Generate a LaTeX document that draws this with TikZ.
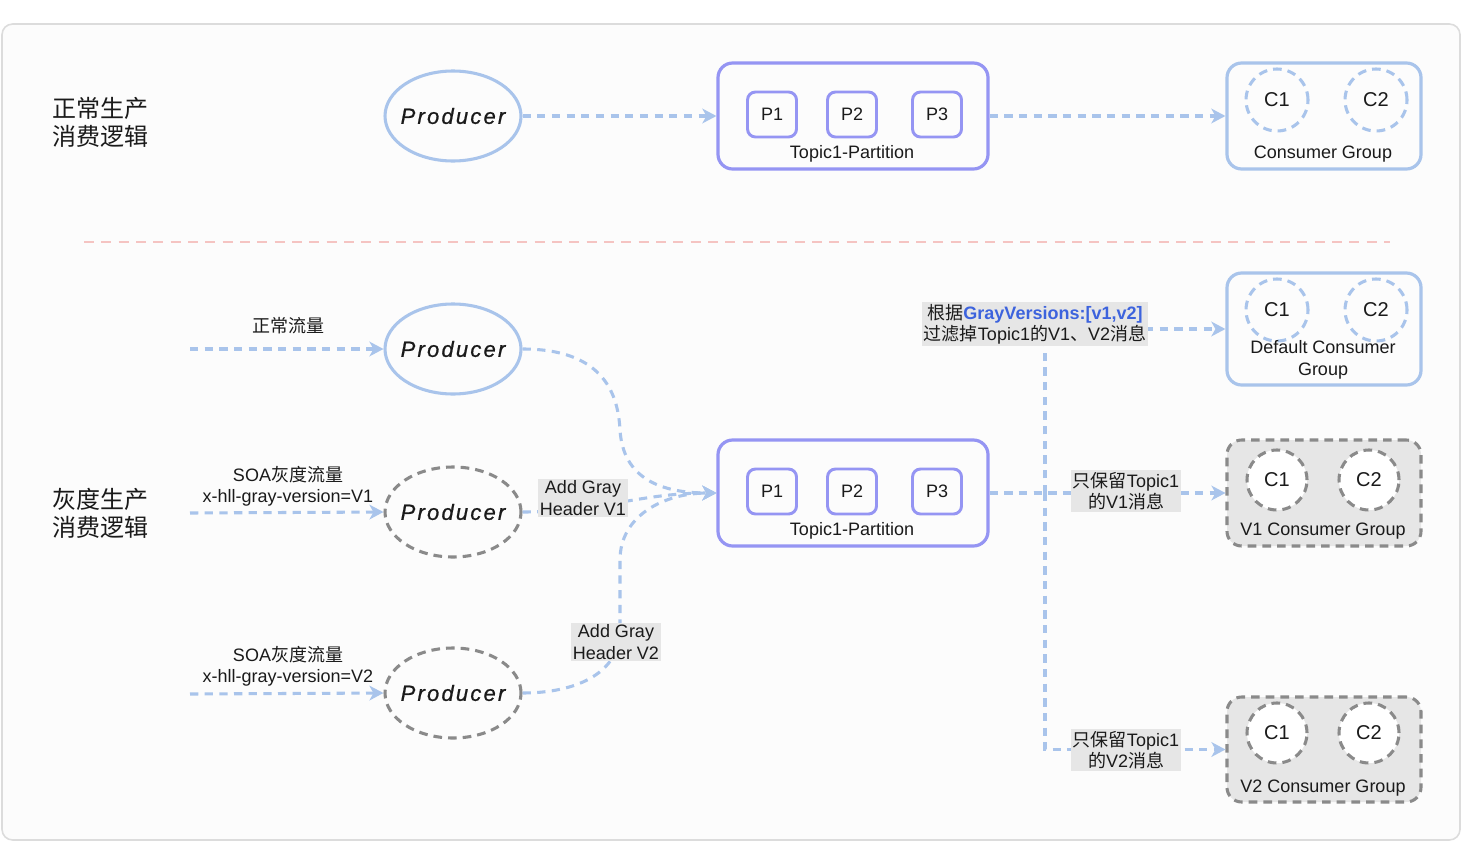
\documentclass[tikz,border=0pt]{standalone}
\usepackage{fontspec}
\setmainfont{Liberation Sans}
\newfontfamily\zh{Noto Sans CJK SC}
\newfontfamily\prodfont[LetterSpace=10,FakeBold=0.8]{Liberation Sans}
\usetikzlibrary{arrows.meta,shapes.geometric}
\definecolor{eblue}{HTML}{A9C4EB}
\definecolor{purp}{HTML}{9595F3}
\definecolor{dgray}{HTML}{8A8A8A}
\definecolor{lgray}{HTML}{E6E6E6}
\definecolor{pinkline}{HTML}{F5C4C2}
\definecolor{gblue}{HTML}{3D63DD}
\definecolor{framec}{HTML}{DCDCDC}
\definecolor{ink}{HTML}{1A1A1A}
\begin{document}
\begin{tikzpicture}[x=0.75pt,y=-0.75pt,
  txt/.style={font=\fontsize{13.5}{16}\selectfont, text=ink, align=center, inner sep=0pt},
  big/.style={font=\zh\fontsize{18}{21}\selectfont, text=ink, align=left, inner sep=0pt},
  clab/.style={font=\fontsize{15}{18}\selectfont, text=ink},
  plab/.style={font=\prodfont\itshape\fontsize{16.5}{19}\selectfont, text=ink},
  edge/.style={draw=eblue, line width=2.3pt, dash pattern=on 6.2pt off 4.8pt},
  arr/.style={edge, -{Stealth[length=10.5pt,width=11pt,inset=3pt]}},
  elab/.style={txt, fill=lgray, inner xsep=1.5pt, inner ysep=1.5pt},
  prodsolid/.style={ellipse, draw=eblue, line width=2.3pt, minimum width=136*0.75pt, minimum height=90*0.75pt, inner sep=0pt},
  prodgray/.style={ellipse, draw=dgray, line width=2.3pt, dash pattern=on 6.5pt off 4.5pt, minimum width=136*0.75pt, minimum height=90*0.75pt, inner sep=0pt},
  topicbox/.style={draw=purp, line width=2.4pt, rounded corners=11pt, minimum width=270*0.75pt, minimum height=106*0.75pt, inner sep=0pt},
  pbox/.style={draw=purp, line width=2.2pt, rounded corners=6pt, minimum width=49*0.75pt, minimum height=45*0.75pt, inner sep=0pt, font=\fontsize{13.5}{16}\selectfont, text=ink},
  cgblue/.style={draw=eblue, line width=2.4pt, rounded corners=11pt, minimum width=194*0.75pt, inner sep=0pt},
  cggray/.style={draw=dgray, fill=lgray, line width=2.3pt, dash pattern=on 6.5pt off 4.5pt, rounded corners=11pt, minimum width=194*0.75pt, inner sep=0pt},
  cblue/.style={circle, draw=eblue, line width=2.3pt, dash pattern=on 6.5pt off 4.5pt, minimum size=62*0.75pt, inner sep=0pt, clab},
  cgray/.style={circle, draw=dgray, fill=white, line width=2.3pt, dash pattern=on 6.5pt off 4.5pt, minimum size=60*0.75pt, inner sep=0pt, clab}
]
\useasboundingbox (0,0) rectangle (1474,846);
\draw[framec, line width=1.2pt, rounded corners=8pt, fill=white!99!black] (2,24) rectangle (1460,840);

% ---------- top section ----------
\node[big] (lt) at (100,122) {正常生产\\消费逻辑};
\node[prodsolid, label={[plab]center:Producer}] (p1) at (453,116) {};
\node[topicbox] (t1) at (853,116) {};
\node[pbox] (t1p1) at (772,114.5) {P1};
\node[pbox] (t1p2) at (852,114.5) {P2};
\node[pbox] (t1p3) at (937,114.5) {P3};
\node[txt] (t1l) at (852,154) {Topic1-Partition};
\node[cgblue, minimum height=106*0.75pt] (cg) at (1324,116) {};
\node[cblue] (cgc1) at (1277,100) {C1};
\node[cblue] (cgc2) at (1376,100) {C2};
\node[txt] (cgl) at (1323,154) {Consumer Group};
\draw[arr] (p1.east) -- (t1.west);
\draw[arr] (t1.east) -- (cg.west);

% separator
\coordinate (sepa) at (84,242);
\coordinate (sepb) at (1390,242);
\draw[pinkline, line width=2.2pt, dash pattern=on 7.5pt off 5.5pt] (sepa) -- (sepb);

% ---------- bottom section ----------
\node[big] (lb) at (100,513) {灰度生产\\消费逻辑};
\node[txt] (in1) at (288,326) {{\zh 正常流量}};
\node[txt] (in2) at (288,486) {SOA{\zh 灰度流量}\\x-hll-gray-version=V1};
\node[txt] (in3) at (288,666) {SOA{\zh 灰度流量}\\x-hll-gray-version=V2};
\coordinate (s1) at (190,349);
\coordinate (s2) at (190,513);
\coordinate (s3) at (190,694);
\node[prodsolid, label={[plab]center:Producer}] (p2) at (453,349) {};
\node[prodgray, label={[plab]center:Producer}] (p3) at (453,512) {};
\node[prodgray, label={[plab]center:Producer}] (p4) at (453,693) {};
\draw[arr] (s1) -- (p2.west);
\draw[arr] (s2) -- (p3.west);
\draw[arr] (s3) -- (p4.west);

\node[topicbox] (t2) at (853,493) {};
\node[pbox] (t2p1) at (772,491.5) {P1};
\node[pbox] (t2p2) at (852,491.5) {P2};
\node[pbox] (t2p3) at (937,491.5) {P3};
\node[txt] (t2l) at (852,531) {Topic1-Partition};

\draw[arr] (p2.east) .. controls (600,349) and (618,390) .. (620,430) .. controls (623,478) and (660,493) .. (t2.west);
\draw[arr] (p3.east) .. controls (600,512) and (640,493) .. (t2.west);
\draw[arr] (p4.east) .. controls (578,693) and (620,672) .. (620,630) -- (620,560) .. controls (620,515) and (665,493) .. (t2.west);
\node[elab] (h1) at (583,498) {Add Gray\\Header V1};
\node[elab] (h2) at (616,642) {Add Gray\\Header V2};

% consumer groups
\node[cgblue, minimum height=112*0.75pt] (dg) at (1324,329) {};
\node[cblue] (dgc1) at (1277,310) {C1};
\node[cblue] (dgc2) at (1376,310) {C2};
\node[txt] (dgl) at (1323,360) {Default Consumer\\Group};

\node[cggray, minimum height=106*0.75pt] (v1g) at (1324,493) {};
\node[cgray] (v1c1) at (1277,480) {C1};
\node[cgray] (v1c2) at (1369,480) {C2};
\node[txt] (v1l) at (1323,531) {V1 Consumer Group};

\node[cggray, minimum height=105*0.75pt] (v2g) at (1324,749.5) {};
\node[cgray] (v2c1) at (1277,733) {C1};
\node[cgray] (v2c2) at (1369,733) {C2};
\node[txt] (v2l) at (1323,788) {V2 Consumer Group};

\coordinate (j) at (1045,493);
\draw[edge] (t2.east) -- (j);
\draw[arr] (j) |- (dg.west);
\draw[arr] (t2.east) -- (v1g.west);
\draw[arr] (j) |- (v2g.west);
\node[elab] (f0) at (1035,324) {{\zh 根据}\textcolor{gblue}{\bfseries GrayVersions:[v1,v2]}\\{\zh 过滤掉}Topic1{\zh 的}V1{\zh 、}V2{\zh 消息}};
\node[elab] (f1) at (1126,491) {{\zh 只保留}Topic1\\{\zh 的}V1{\zh 消息}};
\node[elab] (f2) at (1126,750) {{\zh 只保留}Topic1\\{\zh 的}V2{\zh 消息}};
\end{tikzpicture}
\end{document}
